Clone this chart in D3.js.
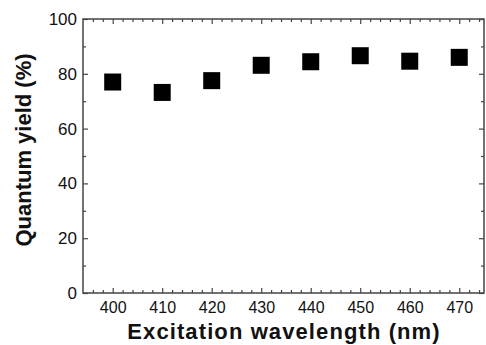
<!DOCTYPE html>
<html>
<head>
<meta charset="utf-8">
<script src="https://cdn.jsdelivr.net/npm/d3@7"></script>
<style>
  body { margin: 0; background: #fff; }
  svg text { font-family: "Liberation Sans", Arial, sans-serif; fill: #111; }
</style>
</head>
<body>
<div id="chart"></div>
<script>
// data
var wavelengths = [400, 410, 420, 430, 440, 450, 460, 470]
var quantumYield = [77.0, 73.2, 77.5, 83.1, 84.4, 86.6, 84.6, 86.0]
var xTicks = [400, 410, 420, 430, 440, 450, 460, 470]
var yTicks = [0, 20, 40, 60, 80, 100]

var width = 486
var height = 345
var margin = {top: 19, right: 2, bottom: 52, left: 83}

var svg = d3.select("#chart")
  .append("svg")
    .attr("width", width)
    .attr("height", height)

var x = d3.scaleLinear()
  .domain([394, 475])
  .range([margin.left, width - margin.right])

var y = d3.scaleLinear()
  .domain([0, 100])
  .range([height - margin.bottom, margin.top])

var axisColor = "#444"

// minor ticks (every 2 nm, every 10 %)
var xMinor = d3.range(396, 475, 2).filter(function(v) { return v % 10 != 0 })
var yMinor = [10, 30, 50, 70, 90]

function styleAxis(g) {
  g.select(".domain").remove()
  g.selectAll(".tick line").attr("stroke", axisColor).attr("stroke-width", 1.2)
}

// bottom
svg.append("g")
  .attr("transform", "translate(0," + y(0) + ")")
  .call(d3.axisBottom(x).tickValues(xTicks).tickSizeInner(-5).tickSizeOuter(0).tickPadding(9))
  .call(styleAxis)
  .selectAll("text")
    .style("font-size", "16px")
svg.append("g")
  .attr("transform", "translate(0," + y(0) + ")")
  .call(d3.axisBottom(x).tickValues(xMinor).tickSize(-3).tickFormat(""))
  .call(styleAxis)

// top
svg.append("g")
  .attr("transform", "translate(0," + y(100) + ")")
  .call(d3.axisTop(x).tickValues(xTicks).tickSize(-5).tickFormat(""))
  .call(styleAxis)
svg.append("g")
  .attr("transform", "translate(0," + y(100) + ")")
  .call(d3.axisTop(x).tickValues(xMinor).tickSize(-3).tickFormat(""))
  .call(styleAxis)

// left
svg.append("g")
  .attr("transform", "translate(" + margin.left + ",0)")
  .call(d3.axisLeft(y).tickValues(yTicks).tickSizeInner(-5).tickSizeOuter(0).tickPadding(6))
  .call(styleAxis)
  .selectAll("text")
    .style("font-size", "17px")
svg.append("g")
  .attr("transform", "translate(" + margin.left + ",0)")
  .call(d3.axisLeft(y).tickValues(yMinor).tickSize(-3).tickFormat(""))
  .call(styleAxis)

// right
svg.append("g")
  .attr("transform", "translate(" + (width - margin.right) + ",0)")
  .call(d3.axisRight(y).tickValues(yTicks).tickSize(-5).tickFormat(""))
  .call(styleAxis)
svg.append("g")
  .attr("transform", "translate(" + (width - margin.right) + ",0)")
  .call(d3.axisRight(y).tickValues(yMinor).tickSize(-3).tickFormat(""))
  .call(styleAxis)

// frame
svg.append("rect")
  .attr("x", x(394))
  .attr("y", y(100))
  .attr("width", x(475) - x(394))
  .attr("height", y(0) - y(100))
  .attr("fill", "none")
  .attr("stroke", axisColor)
  .attr("stroke-width", 1.5)

// square markers
var size = 17
svg.selectAll("rect.pt")
  .data(wavelengths)
  .enter()
  .append("rect")
    .attr("class", "pt")
    .attr("x", function(d) { return x(d) - size / 2 })
    .attr("y", function(d, i) { return y(quantumYield[i]) - size / 2 })
    .attr("width", size)
    .attr("height", size)
    .attr("fill", "#000")

// axis titles
svg.append("text")
  .attr("x", 284)
  .attr("y", 339)
  .attr("text-anchor", "middle")
  .style("font-size", "22px")
  .style("letter-spacing", "1.1px")
  .style("font-weight", "bold")
  .text("Excitation wavelength (nm)")

svg.append("text")
  .attr("transform", "translate(31," + 150 + ") rotate(-90)")
  .attr("text-anchor", "middle")
  .style("font-size", "22px")
  .style("font-weight", "bold")
  .text("Quantum yield (%)")
</script>
</body>
</html>
